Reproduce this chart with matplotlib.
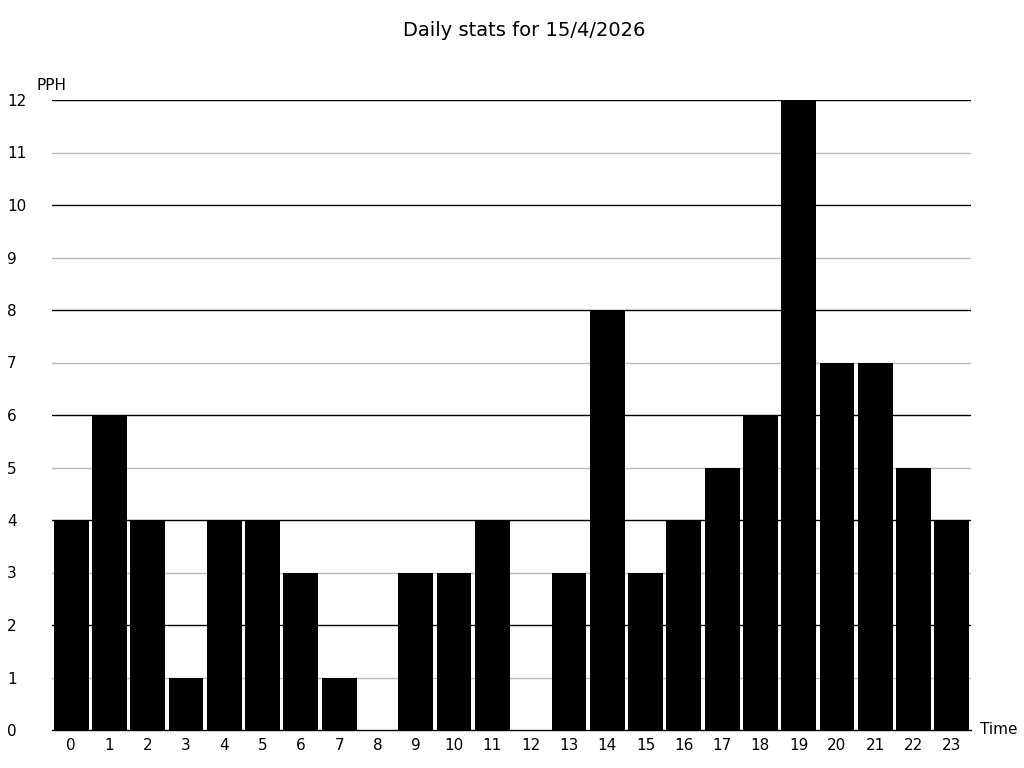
import matplotlib
matplotlib.use("Agg")
import matplotlib.pyplot as plt

hours = list(range(24))
pph = [4, 6, 4, 1, 4, 4, 3, 1, 0, 3, 3, 4, 0, 3, 8, 3, 4, 5, 6, 12, 7, 7, 5, 4]
y_ticks = list(range(13))
title = "Daily stats for 15/4/2026"

fig = plt.figure(figsize=(10.24, 7.68), dpi=100)
ax = fig.add_axes([52 / 1024, 38 / 768, 919 / 1024, 630 / 768])

# grid lines: black on even values, grey on odd
for v in y_ticks[1:]:
    ax.axhline(v, color="black" if v % 2 == 0 else "#bbbbbb", lw=1, zorder=0)

ax.bar(hours, pph, width=0.91, color="black", zorder=2)

ax.set_xlim(-0.5, 23.5)
ax.set_ylim(0, 12)
for s in ["top", "right", "left"]:
    ax.spines[s].set_visible(False)
ax.spines["bottom"].set_linewidth(1)
ax.spines["bottom"].set_zorder(3)

ax.set_xticks(hours)
ax.set_xticklabels([str(h) for h in hours], fontsize=11)
ax.set_yticks(y_ticks)
ax.set_yticklabels([str(v) for v in y_ticks], fontsize=11, ha="left")
ax.tick_params(axis="x", length=0, pad=6)
ax.tick_params(axis="y", length=0, pad=32.4)

fig.text(37 / 1024, 1 - 85 / 768, "PPH", fontsize=11, ha="left", va="center")
fig.text(980 / 1024, 1 - 730 / 768, "Time", fontsize=11, ha="left", va="center")
fig.text(0.512, 1 - 31 / 768, title, fontsize=14, ha="center", va="center")

fig.savefig("out.png", dpi=100)
